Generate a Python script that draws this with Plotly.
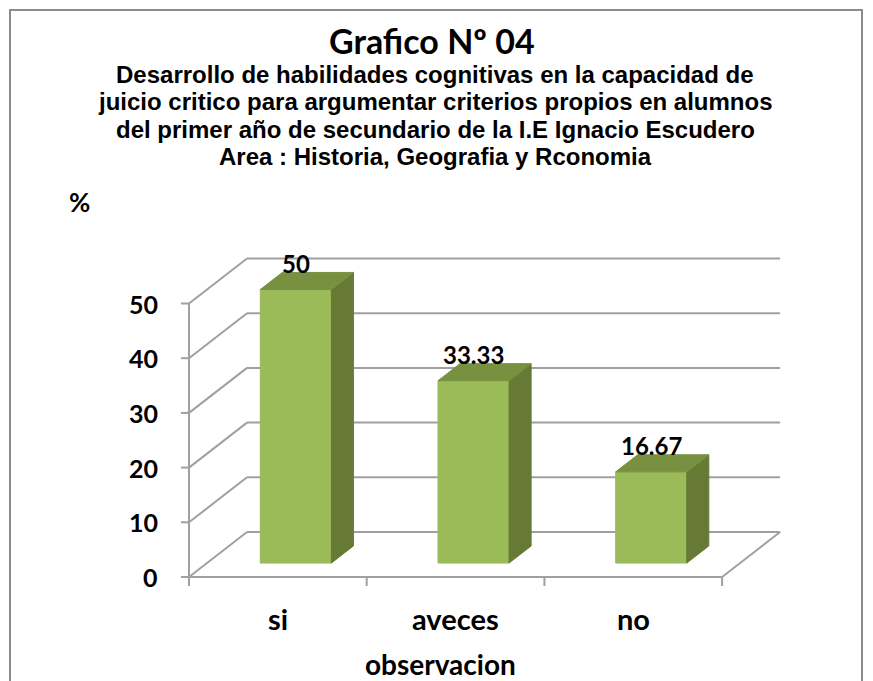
import plotly.graph_objects as go

# ---- data ----
categories = ["si", "aveces", "no"]
values = [50, 33.33, 16.67]
value_labels = ["50", "33.33", "16.67"]
y_ticks = [0, 10, 20, 30, 40, 50]
y_tick_labels = ["0", "10", "20", "30", "40", "50"]

title_main = "Grafico Nº 04"
subtitle_lines = [
    "Desarrollo de habilidades cognitivas en la capacidad de",
    "juicio critico para argumentar criterios propios en alumnos",
    "del primer año de secundario de la I.E Ignacio Escudero",
    "Area : Historia, Geografia y Rconomia",
]
x_title = "observacion"
y_title = "%"

# ---- layout geometry (page has an 8px body margin) ----
OFF = 8
W, H = 873 - OFF, 681 - OFF
ORIGIN_PX = (189 - OFF, 577 - OFF)  # pixel of (category 0, value 0, front)
CAT_PX = 177.7                      # pixels per category
VAL_PX = 5.47                       # pixels per value unit
DEPTH_DX = 58 / CAT_PX              # depth offset in category units
DEPTH_DY = 45 / VAL_PX              # depth offset in value units
BAR_W = 0.4
F0, F1 = 0.31, 0.69                 # bar depth fraction (front, back)

GRID = "#A0A0A0"
FRONT = "#9BBB59"
SIDE = "#667A36"
TOP = "#789141"
FONT_CAL = "Lato"
FONT_AR = "Liberation Sans"

xr = [(0 - ORIGIN_PX[0]) / CAT_PX, (W - ORIGIN_PX[0]) / CAT_PX]
yr = [(ORIGIN_PX[1] - H) / VAL_PX, (ORIGIN_PX[1] - 0) / VAL_PX]

n = len(categories)


def px_x(p):
    return (p - OFF) / W


def px_y(p):
    return 1 - (p - OFF) / H


def proj(x, v, f):
    return x + f * DEPTH_DX, v + f * DEPTH_DY


fig = go.Figure()


def line(pts, color=GRID, width=2):
    fig.add_trace(go.Scatter(
        x=[p[0] for p in pts], y=[p[1] for p in pts], mode="lines",
        line=dict(color=color, width=width), hoverinfo="skip", showlegend=False))


def face(pts, color):
    pts = pts + [pts[0]]
    fig.add_trace(go.Scatter(
        x=[p[0] for p in pts], y=[p[1] for p in pts], mode="lines",
        fill="toself", fillcolor=color, line=dict(color=color, width=1),
        hoverinfo="skip", showlegend=False))


# back wall gridlines and left wall diagonals
for v in y_ticks:
    line([proj(0, v, 1), proj(n, v, 1)])
    line([proj(0, v, 0), proj(0, v, 1)])
# floor right edge
line([proj(n, 0, 0), proj(n, 0, 1)])
# front axes
line([proj(0, 0, 0), proj(0, y_ticks[-1], 0)])
line([proj(0, 0, 0), proj(n, 0, 0)])
tick_x = 8 / CAT_PX
tick_y = 9 / VAL_PX
for v in y_ticks:
    line([(-tick_x, v), (0, v)])
for i in range(n + 1):
    line([(i, 0), (i, -tick_y)])

# bars
annotations = []
for i, (c, v) in enumerate(zip(categories, values)):
    xl, xh = i + 0.5 - BAR_W / 2, i + 0.5 + BAR_W / 2
    face([proj(xl, 0, F0), proj(xh, 0, F0), proj(xh, v, F0), proj(xl, v, F0)], FRONT)
    face([proj(xh, 0, F0), proj(xh, 0, F1), proj(xh, v, F1), proj(xh, v, F0)], SIDE)
    face([proj(xl, v, F0), proj(xh, v, F0), proj(xh, v, F1), proj(xl, v, F1)], TOP)
    lx, ly = proj(i + 0.5, v, F0)
    annotations.append(dict(
        x=lx, y=ly + 26 / VAL_PX, xref="x", yref="y", text=value_labels[i],
        showarrow=False, yanchor="middle",
        font=dict(family=FONT_CAL, size=24, color="black", weight="bold")))
    annotations.append(dict(
        x=i + 0.5, y=-41 / VAL_PX, xref="x", yref="y", text=c, showarrow=False,
        yanchor="middle",
        font=dict(family=FONT_CAL, size=29, color="black", weight="bold")))

for v, t in zip(y_ticks, y_tick_labels):
    annotations.append(dict(
        x=-29 / CAT_PX, y=v, xref="x", yref="y", text=t, showarrow=False,
        xanchor="right", yanchor="middle",
        font=dict(family=FONT_CAL, size=25, color="black", weight="bold")))

annotations.append(dict(
    x=px_x(440), y=px_y(664), xref="paper", yref="paper", text=x_title,
    showarrow=False, xanchor="center", yanchor="middle",
    font=dict(family=FONT_CAL, size=28, color="black", weight="bold")))
annotations.append(dict(
    x=px_x(79), y=px_y(202), xref="paper", yref="paper", text=y_title,
    showarrow=False, xanchor="center", yanchor="middle",
    font=dict(family=FONT_CAL, size=26, color="black", weight="bold")))

annotations.append(dict(
    x=px_x(432), y=px_y(40), xref="paper", yref="paper", text=title_main,
    showarrow=False, xanchor="center", yanchor="middle",
    font=dict(family=FONT_CAL, size=34, color="black", weight="bold")))
for k, s in enumerate(subtitle_lines):
    annotations.append(dict(
        x=px_x(435), y=px_y(75 + 27 * k), xref="paper", yref="paper", text=s,
        showarrow=False, xanchor="center", yanchor="middle",
        font=dict(family=FONT_AR, size=24, color="black", weight="bold")))

fig.update_layout(
    width=W, height=H,
    margin=dict(l=0, r=0, t=0, b=0),
    paper_bgcolor="white", plot_bgcolor="white",
    xaxis=dict(range=xr, visible=False, fixedrange=True),
    yaxis=dict(range=yr, visible=False, fixedrange=True),
    annotations=annotations,
    shapes=[dict(type="rect", xref="paper", yref="paper",
                 x0=px_x(10), x1=px_x(862), y0=-0.05, y1=px_y(10),
                 line=dict(color="#8C8C8C", width=2), layer="below")],
    showlegend=False,
)

fig.write_html("out.html")
